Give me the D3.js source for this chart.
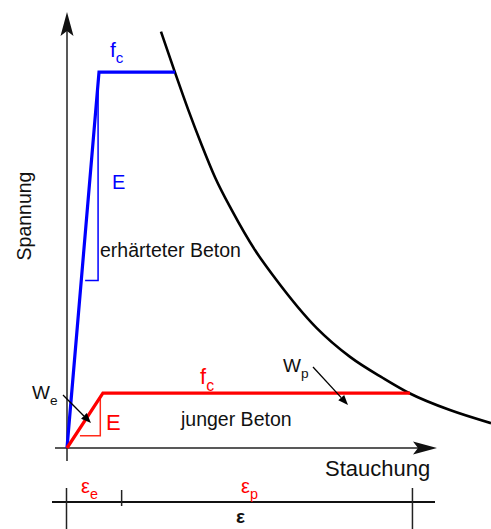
<!DOCTYPE html>
<html>
<head>
<meta charset="utf-8">
<script src="https://cdn.jsdelivr.net/npm/d3@7"></script>
<style>
  body { margin: 0; background: #fff; }
  svg { display: block; font-family: "Liberation Sans", Arial, sans-serif; }
</style>
</head>
<body>
<div id="chart"></div>
<script>
// Spannung-Stauchung: erhaerteter vs. junger Beton (schematic units)

// strain, stress pairs
let hardStrain = [0, 0.865, 2.92]
let hardStress = [0, 8.62, 8.62]

let youngStrain = [0, 0.97, 9.27]
let youngStress = [0, 1.26, 1.26]

// black limit curve
let curveStrain = [2.54, 2.92, 3.28, 3.64, 4.0, 4.45, 5.08, 5.62, 6.75, 7.65, 8.55, 9.27, 10.35, 11.46]
let curveStress = [9.55, 8.61, 7.75, 6.95, 6.21, 5.46, 4.54, 3.9, 2.75, 2.09, 1.6, 1.25, 0.87, 0.57]

// slope triangles: [strain at top, stress at top, strain at bottom-left]
let hardTriangle = [0.84, 8.45, 0.49]
let youngTriangle = [0.9, 1.16, 0.35]
let hardTriangleBottom = 3.84
let youngTriangleBottom = 0.28

// dimension line marks
let dimStrain = [0, 1.49, 9.35]

let width = 491
let height = 529

var svg = d3.select("#chart")
    .append("svg")
    .attr("width", width)
    .attr("height", height)

var x = d3.scaleLinear().domain([0, 10]).range([67, 437])
var y = d3.scaleLinear().domain([0, 10]).range([448, 12])

// axes
svg.append("line")
    .attr("x1", x(0)).attr("y1", 461)
    .attr("x2", x(0)).attr("y2", 30)
    .attr("stroke", "#222").style("stroke-width", "1.5px")
svg.append("line")
    .attr("x1", 55).attr("y1", y(0))
    .attr("x2", 420).attr("y2", y(0))
    .attr("stroke", "#222").style("stroke-width", "1.5px")

svg.append("path")
    .attr("d", "M" + x(0) + ",12 L" + (x(0) + 6.5) + ",36 L" + x(0) + ",31 L" + (x(0) - 6.5) + ",36 Z")
    .attr("fill", "#111")
svg.append("path")
    .attr("d", "M437," + y(0) + " L413," + (y(0) - 6.5) + " L418," + y(0) + " L413," + (y(0) + 6.5) + " Z")
    .attr("fill", "#111")

// slope triangles (thin)
function triangle(t, bottom, color) {
    svg.append("path")
        .attr("d", "M" + x(t[0]) + "," + y(t[1]) + " L" + x(t[0]) + "," + y(bottom) + " L" + x(t[2]) + "," + y(bottom))
        .attr("fill", "none")
        .attr("stroke", color)
        .style("stroke-width", "1.5px")
}
triangle(hardTriangle, hardTriangleBottom, "#0000ff")
triangle(youngTriangle, youngTriangleBottom, "#ff2a1a")

// limit curve
var smooth = d3.line()
    .x(function (d) { return x(d[0]) })
    .y(function (d) { return y(d[1]) })
    .curve(d3.curveMonotoneX)

svg.append("path")
    .attr("d", smooth(d3.zip(curveStrain, curveStress)))
    .attr("fill", "none")
    .attr("stroke", "#000")
    .style("stroke-width", "2.6px")

var poly = d3.line()
    .x(function (d) { return x(d[0]) })
    .y(function (d) { return y(d[1]) })

svg.append("path")
    .attr("d", poly(d3.zip(hardStrain, hardStress)))
    .attr("fill", "none")
    .attr("stroke", "#0000ff")
    .style("stroke-width", "3.2px")

svg.append("path")
    .attr("d", poly(d3.zip(youngStrain, youngStress)))
    .attr("fill", "none")
    .attr("stroke", "#ff0000")
    .style("stroke-width", "3.2px")

// small arrows We / Wp
function arrow(x1, y1, x2, y2) {
    let a = Math.atan2(y2 - y1, x2 - x1)
    let len = 10, w = 4
    let bx = x2 - len * Math.cos(a), by = y2 - len * Math.sin(a)
    svg.append("line")
        .attr("x1", x1).attr("y1", y1).attr("x2", bx).attr("y2", by)
        .attr("stroke", "#000").style("stroke-width", "1.3px")
    svg.append("path")
        .attr("d", "M" + x2 + "," + y2 +
            " L" + (bx + w * Math.sin(a)) + "," + (by - w * Math.cos(a)) +
            " L" + (bx - w * Math.sin(a)) + "," + (by + w * Math.cos(a)) + " Z")
        .attr("fill", "#000")
}
arrow(63, 395, 91, 423)
arrow(313, 367, 348, 405)

// labels
function label(tx, ty, main, sub, color, size) {
    let t = svg.append("text")
        .attr("x", tx).attr("y", ty)
        .attr("fill", color)
        .style("font-size", size + "px")
    t.append("tspan").text(main)
    if (sub) {
        t.append("tspan")
            .attr("dy", size * 0.3)
            .style("font-size", (size * 0.72) + "px")
            .text(sub)
    }
    return t
}

label(110, 57, "f", "c", "#0000ff", 21)
label(112, 189, "E", null, "#0000ff", 20)
label(100, 257, "erh\u00e4rteter Beton", null, "#111", 19.5)

label(200, 384, "f", "c", "#ff0000", 22)
label(106, 430, "E", null, "#ff0000", 22)
label(181, 426, "junger Beton", null, "#111", 19.5)

label(32, 399, "W", "e", "#111", 19)
label(283, 372, "W", "p", "#111", 19)

label(325, 476, "Stauchung", null, "#111", 22)

svg.append("text")
    .attr("transform", "translate(31,216) rotate(-90)")
    .attr("text-anchor", "middle")
    .attr("fill", "#111")
    .style("font-size", "19.5px")
    .text("Spannung")

// dimension line
svg.append("line")
    .attr("x1", 52).attr("y1", 502)
    .attr("x2", 435).attr("y2", 502)
    .attr("stroke", "#111").style("stroke-width", "2px")

svg.selectAll("dimticks")
    .data(dimStrain)
    .enter()
    .append("line")
    .attr("x1", function (d) { return x(d) - 0.5 })
    .attr("x2", function (d) { return x(d) - 0.5 })
    .attr("y1", function (d, i) { return i == 1 ? 490 : 488 })
    .attr("y2", function (d, i) { return i == 1 ? 506 : 530 })
    .attr("stroke", "#222")
    .style("stroke-width", "1.5px")

label(81, 493, "\u03b5", "e", "#ff0000", 20)
label(241, 493, "\u03b5", "p", "#ff0000", 20)

svg.append("text")
    .attr("x", 236).attr("y", 523)
    .attr("fill", "#111")
    .style("font-size", "19px")
    .style("font-weight", "bold")
    .text("\u03b5")
</script>
</body>
</html>
